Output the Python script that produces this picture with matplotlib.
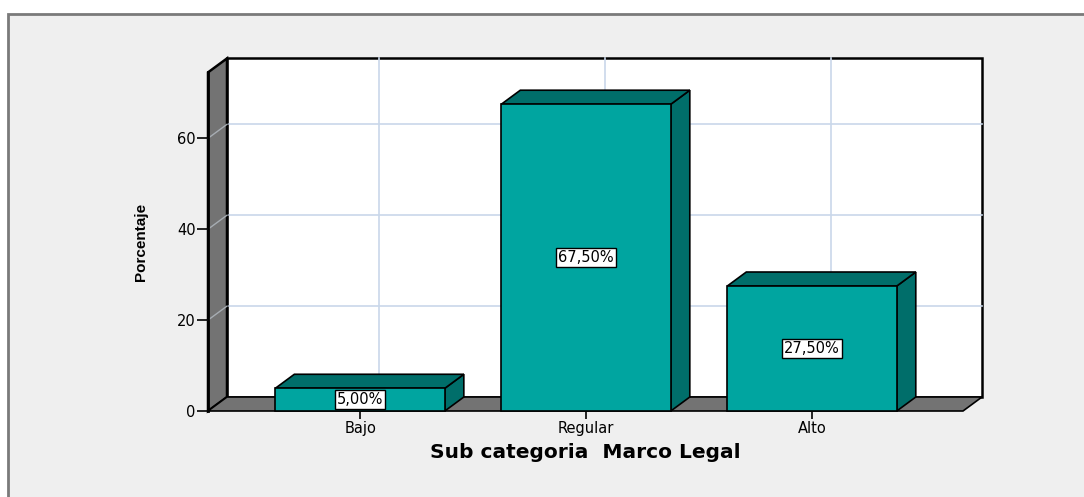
import numpy as np
import matplotlib
matplotlib.use('Agg')
import matplotlib.pyplot as plt
from matplotlib.patches import Polygon, Rectangle

categories = ['Bajo', 'Regular', 'Alto']
porcentajes = [5.0, 67.5, 27.5]
etiquetas = ['5,00%', '67,50%', '27,50%']
yticks = [0, 20, 40, 60]

front_col = '#00a5a0'
dark_col = '#006e6a'
wall_col = '#737373'
grid_col = '#c9d7ea'

W, H = 1084, 497
fig = plt.figure(figsize=(W / 100, H / 100), dpi=100)
fig.patch.set_facecolor('white')

# grey panel with its border (SPSS output frame), kept behind the axes
fig.add_artist(Rectangle((8 / W, -0.1), 1.2, (H - 14) / H + 0.1, transform=fig.transFigure,
                         facecolor='#efefef', edgecolor='#7a7a7a', linewidth=2, zorder=-5))

# front plane of the 3D box
x0_px, x1_px, y0_px, yt_px = 208, 963, 411, 72.4
ax = fig.add_axes([x0_px / W, (H - y0_px) / H, (x1_px - x0_px) / W, (y0_px - yt_px) / H])
ax.patch.set_alpha(0)
for s in ax.spines.values():
    s.set_visible(False)

xl, xr = -0.673, 2.668
ymax = 74.5
ax.set_xlim(xl, xr)
ax.set_ylim(0, ymax)

# depth offset, px -> data units
dx = 19 * (xr - xl) / (x1_px - x0_px)
dy = 14 * ymax / (y0_px - yt_px)

def poly(pts, fc, z, lw=1.2, ec='black'):
    ax.add_patch(Polygon(pts, closed=True, facecolor=fc, edgecolor=ec, linewidth=lw,
                         zorder=z, clip_on=False, joinstyle='miter'))

# back wall
poly([(xl + dx, dy), (xr + dx, dy), (xr + dx, ymax + dy), (xl + dx, ymax + dy)], 'white', 1, lw=1.8)
for v in yticks[1:]:
    ax.plot([xl + dx, xr + dx], [v + dy, v + dy], color=grid_col, lw=1.2, zorder=1.5, clip_on=False)
for i in range(len(categories)):
    ax.plot([i + dx, i + dx], [dy, ymax + dy], color=grid_col, lw=1.2, zorder=1.5, clip_on=False)

# left side wall
poly([(xl, 0), (xl + dx, dy), (xl + dx, ymax + dy), (xl, ymax)], wall_col, 2, lw=1.8)
for v in yticks[1:]:
    ax.plot([xl, xl + dx], [v, v + dy], color='#a7adb3', lw=1, zorder=2.5, clip_on=False)

# floor
poly([(xl, 0), (xr, 0), (xr + dx, dy), (xl + dx, dy)], wall_col, 2, lw=1.2)

# bars
bw = 0.75
for i, v in enumerate(porcentajes):
    a, b = i - bw / 2, i + bw / 2
    poly([(b, 0), (b + dx, dy), (b + dx, v + dy), (b, v)], dark_col, 3)
    poly([(a, v), (b, v), (b + dx, v + dy), (a + dx, v + dy)], dark_col, 3)
bars = ax.bar(range(len(categories)), porcentajes, width=bw, color=front_col,
              edgecolor='black', linewidth=1.2, zorder=4, clip_on=False)
for rect, txt, v in zip(bars, etiquetas, porcentajes):
    ax.text(rect.get_x() + rect.get_width() / 2, v / 2, txt, ha='center', va='center',
            fontsize=10.5, zorder=6, family='DejaVu Sans',
            bbox=dict(boxstyle='square,pad=0.15', facecolor='white', edgecolor='black', linewidth=1))

# front left edge of the box
ax.plot([xl, xl], [0, ymax], color='black', lw=2, zorder=5, clip_on=False)

ax.set_yticks(yticks)
ax.set_xticks(range(len(categories)))
ax.set_xticklabels(categories)
ax.tick_params(axis='y', direction='out', length=8, width=1.2, pad=1, labelsize=10.5)
ax.tick_params(axis='x', direction='out', length=6, width=1.2, pad=1, labelsize=10.5)
for lab in ax.get_xticklabels() + ax.get_yticklabels():
    lab.set_family('DejaVu Sans')

ax.set_xlabel('Sub categoria  Marco Legal', fontsize=14.5, fontweight='bold',
              family='DejaVu Sans', labelpad=5)
ax.set_ylabel('Porcentaje', fontsize=11, fontweight='bold', family='Liberation Sans', labelpad=21)

fig.savefig('out.png', dpi=100)
